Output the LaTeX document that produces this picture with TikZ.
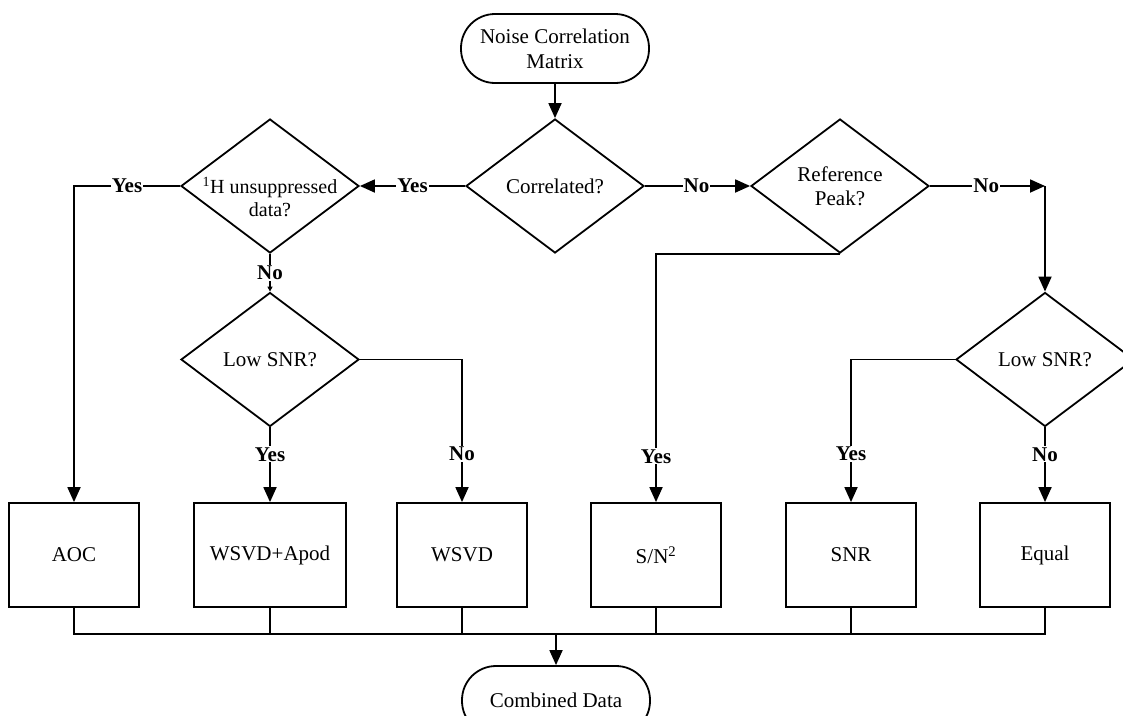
\documentclass[tikz,border=0pt]{standalone}
\usepackage{fontspec}
\setmainfont{Liberation Serif}
\usetikzlibrary{shapes.geometric,arrows.meta}
\begin{document}
\begin{tikzpicture}[x=1pt,y=-1pt,
  every node/.style={font=\fontsize{21}{25}\selectfont},
  line width=1.8pt,
  term/.style={draw,rectangle,rounded corners=34pt,minimum width=188pt,minimum height=69pt,align=center,inner sep=0pt},
  dia/.style={draw,diamond,minimum width=178pt,minimum height=134pt,inner sep=0pt},
  dtext/.style={align=center,font=\fontsize{21}{24}\selectfont},
  boxn/.style={draw,rectangle,minimum width=130pt,minimum height=104pt,inner sep=0pt},
  lab/.style={fill=white,inner sep=1pt,font=\fontsize{21}{24}\selectfont\bfseries},
  arr/.style={-{Triangle[length=15pt,width=13pt]}},
  sarr/.style={-{Triangle[length=5pt,width=5pt]}}]
\useasboundingbox (0,0) rectangle (1123,715);
% nodes
\node[term] (start) at (555,48.5) {Noise Correlation\\Matrix};
\node[dia,label={[dtext]center:Correlated?}] (corr) at (555,186) {};
\node[dia,label={[dtext,font=\fontsize{20}{23}\selectfont,yshift=-11pt]center:\textsuperscript{1}H unsuppressed\\data?}] (hun) at (270,186) {};
\node[dia,label={[dtext]center:Reference\\Peak?}] (ref) at (840,186) {};
\node[dia,label={[dtext]center:Low SNR?}] (low1) at (270,359.5) {};
\node[dia,label={[dtext]center:Low SNR?}] (low2) at (1045,359.5) {};
\node[boxn] (aoc) at (74,555) {AOC};
\node[boxn,minimum width=152pt] (wapod) at (270,555) {WSVD+Apod};
\node[boxn] (wsvd) at (462,555) {WSVD};
\node[boxn] (sn2) at (656,555) {S/N\textsuperscript{2}};
\node[boxn] (snr) at (851,555) {SNR};
\node[boxn] (equal) at (1045,555) {Equal};
\node[term] (comb) at (556,700.5) {Combined Data};
% corner coordinates
\coordinate (kR) at (1045,186);
\coordinate (bl) at (74,634);
\coordinate (br) at (1045,634);
% connectors
\draw[arr] (start) -- (corr.north);
\draw[arr] (corr.west) -- node[lab,pos=0.5]{Yes} (hun.east);
\draw[arr] (corr.east) -- node[lab,pos=0.49]{No} (ref.west);
\draw[arr] (hun.west) -| node[lab,pos=0.25]{Yes} (aoc.north);
\draw[sarr] (hun.south) -- node[lab,pos=0.5]{No} (low1.north);
\draw[arr] (low1.south) -- node[lab,pos=0.36]{Yes} (wapod.north);
\draw[arr] (low1.east) -| node[lab,pos=0.83]{No} (wsvd.north);
\draw[arr] (ref.east) -- node[lab,pos=0.49]{No} (kR);
\draw[arr] (kR) -- (low2.north);
\draw[arr] (ref.south) -| node[lab,pos=0.908]{Yes} (sn2.north);
\draw[arr] (low2.west) -| node[lab,pos=0.83]{Yes} (snr.north);
\draw[arr] (low2.south) -- node[lab,pos=0.36]{No} (equal.north);
% bus
\draw (aoc.south) -- (bl) -- (br) -- (equal.south);
\draw (wapod.south) -- (wapod.south |- bl);
\draw (wsvd.south) -- (wsvd.south |- bl);
\draw (sn2.south) -- (sn2.south |- bl);
\draw (snr.south) -- (snr.south |- bl);
\draw[arr] (comb.north |- bl) -- (comb.north);
\end{tikzpicture}
\end{document}
